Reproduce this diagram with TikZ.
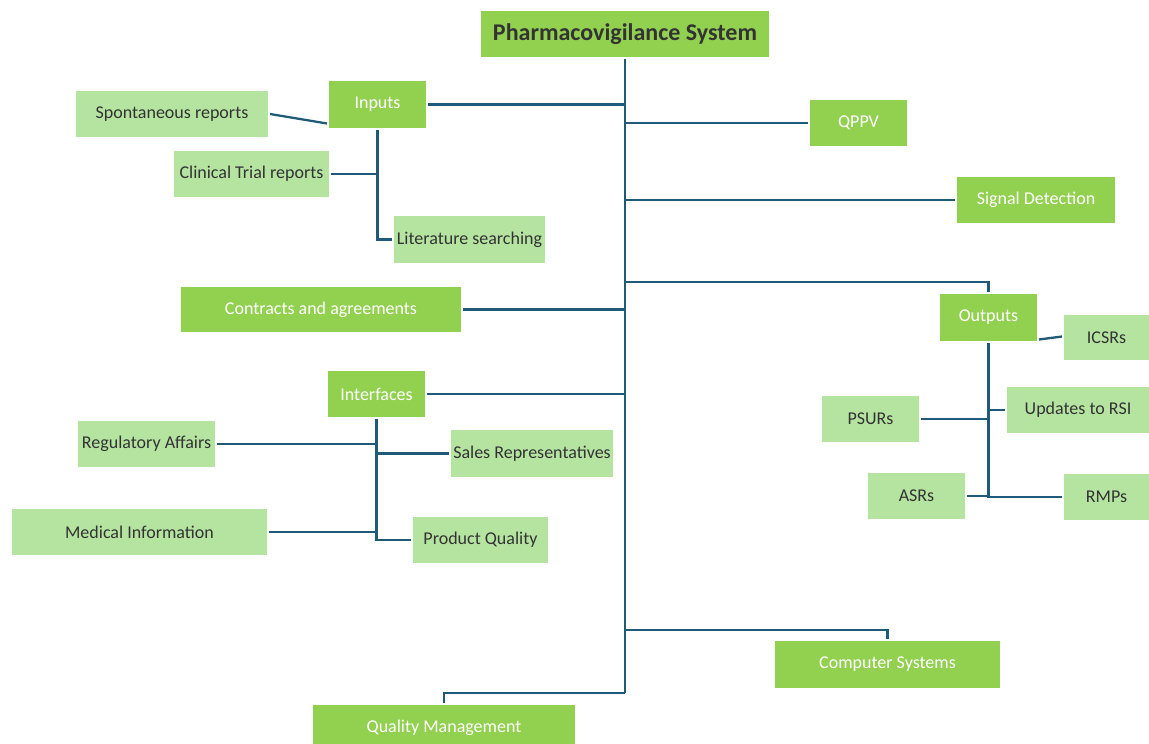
\documentclass[tikz,border=0pt]{standalone}
\usepackage{fontspec}
\setmainfont{Carlito}
\definecolor{dkg}{HTML}{92D050}
\definecolor{ltg}{HTML}{B5E4A1}
\definecolor{ln}{HTML}{1F5A78}
\definecolor{txt}{HTML}{333333}
\begin{document}
\begin{tikzpicture}[x=1pt,y=-1pt,
  box/.style={inner sep=0pt, outer sep=2pt, font=\fontsize{18}{20}\selectfont},
  dark/.style={box, fill=dkg, text=white},
  light/.style={box, fill=ltg, text=txt},
  con/.style={draw=ln, line width=2.3pt}]
\useasboundingbox (0,0) rectangle (1149,744);
% main boxes
\node[box, fill=dkg, text=txt, font=\fontsize{24}{27}\selectfont\bfseries, minimum width=288, minimum height=46] (title) at (625,34) {Pharmacovigilance System};
\node[dark, minimum width=97, minimum height=47] (inputs) at (377.5,104.5) {Inputs};
\node[light, minimum width=192, minimum height=46] (spont) at (172,114) {Spontaneous reports};
\node[light, minimum width=155, minimum height=46] (clin) at (251.5,174) {Clinical Trial reports};
\node[light, minimum width=151, minimum height=47] (lit) at (469.5,239.5) {Literature searching};
\node[dark, minimum width=97, minimum height=46] (qppv) at (858.5,123) {QPPV};
\node[dark, minimum width=158, minimum height=46] (sig) at (1036,200) {Signal Detection};
\node[dark, minimum width=280, minimum height=45] (contr) at (321,309.5) {Contracts and agreements};
\node[dark, minimum width=97, minimum height=47] (outputs) at (988.5,317.5) {Outputs};
\node[light, minimum width=85, minimum height=45] (icsr) at (1106.5,337.5) {ICSRs};
\node[light, minimum width=142, minimum height=46] (upd) at (1078,410) {Updates to RSI};
\node[light, minimum width=97, minimum height=46] (psur) at (870.5,419) {PSURs};
\node[light, minimum width=97, minimum height=46] (asr) at (916.5,496) {ASRs};
\node[light, minimum width=85, minimum height=46] (rmp) at (1106.5,497) {RMPs};
\node[dark, minimum width=97, minimum height=46] (interf) at (376.5,394) {Interfaces};
\node[light, minimum width=137, minimum height=46] (reg) at (146.5,444) {Regulatory Affairs};
\node[light, minimum width=162, minimum height=47] (sales) at (532,453.5) {Sales Representatives};
\node[light, minimum width=255, minimum height=46] (med) at (139.5,532) {Medical Information};
\node[light, minimum width=135, minimum height=46] (pq) at (480.5,540) {Product Quality};
\node[dark, minimum width=225, minimum height=47] (comp) at (887.5,664.5) {Computer Systems};
\node[dark, minimum width=262, minimum height=46] (qm) at (444,728) {Quality Management};
% trunk
\coordinate (tb) at (625,693);
\coordinate (jo) at (625,282);
\coordinate (jc) at (625,630);
\draw[con] (title.south) -- (tb);
\draw[con] (inputs.east) -- (inputs.east -| tb);
\draw[con] (qppv.west) -- (qppv.west -| tb);
\draw[con] (sig.west) -- (sig.west -| tb);
\draw[con] (contr.east) -- (contr.east -| tb);
\draw[con] (interf.east) -- (interf.east -| tb);
\draw[con] (jo) -| (outputs.north);
\draw[con] (jc) -| (comp.north);
\draw[con] (tb) -| (qm.north);
% inputs
\draw[con] (spont.east) -- ([yshift=-19pt]inputs.west);
\draw[con] (inputs.south) |- (lit.west);
\draw[con] (clin.east) -- (clin.east -| inputs.south);
% outputs
\draw[con] ([yshift=-22pt]outputs.east) -- ([yshift=1pt]icsr.west);
\draw[con] (outputs.south) |- (rmp.west);
\draw[con] (upd.west) -- (upd.west -| outputs.south);
\draw[con] (psur.east) -- (psur.east -| outputs.south);
\draw[con] (asr.east) -- (asr.east -| outputs.south);
% interfaces
\draw[con] (interf.south) |- (pq.west);
\draw[con] (reg.east) -- (reg.east -| interf.south);
\draw[con] (sales.west) -- (sales.west -| interf.south);
\draw[con] (med.east) -- (med.east -| interf.south);
\end{tikzpicture}
\end{document}
